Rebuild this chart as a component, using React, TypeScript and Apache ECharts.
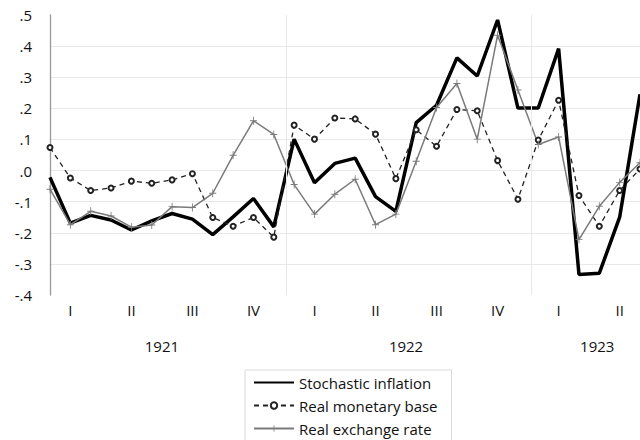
import React, { useEffect, useRef } from "react";
import * as echarts from "echarts";

const months: string[] = [];
for (const y of [1921, 1922, 1923]) {
  for (let m = 1; m <= 12; m++) {
    if (y === 1923 && m > 6) break;
    months.push(`${y}-${String(m).padStart(2, "0")}`);
  }
}

const quarterLabels = ["I", "II", "III", "IV"];
const years = ["1921", "1922", "1923"];
// centre of each year's visible span, in month-index units
const yearCenters = [5.5, 17.5, 26.9];
// year boundaries, in month-index units
const yearDividers = [11.6, 23.65];

const stochasticInflation = [
  -0.022, -0.169, -0.144, -0.159, -0.191, -0.162, -0.138, -0.156, -0.206, -0.149, -0.09, -0.181,
  0.101, -0.039, 0.023, 0.04, -0.084, -0.131, 0.154, 0.21, 0.362, 0.304, 0.484, 0.201,
  0.201, 0.392, -0.334, -0.33, -0.15, 0.245,
];
const realMonetaryBase = [
  0.074, -0.024, -0.064, -0.056, -0.034, -0.041, -0.03, -0.01, -0.151, -0.179, -0.151, -0.214,
  0.146, 0.101, 0.169, 0.166, 0.117, -0.026, 0.131, 0.078, 0.196, 0.192, 0.032, -0.092,
  0.098, 0.226, -0.08, -0.179, -0.064, 0.005,
];
const realExchangeRate = [
  -0.06, -0.174, -0.131, -0.146, -0.182, -0.175, -0.116, -0.119, -0.073, 0.049, 0.16, 0.116,
  -0.045, -0.14, -0.076, -0.028, -0.174, -0.14, 0.03, 0.203, 0.28, 0.101, 0.435, 0.259,
  0.084, 0.108, -0.222, -0.115, -0.038, 0.025,
];

const FONT = "Open Sans";
const plusPath = "path://M4.4,0 h1.2 v10 h-1.2 z M0,4.4 h10 v1.2 h-10 z";

export default function App() {
  const ref = useRef<HTMLDivElement>(null);
  useEffect(() => {
    if (!ref.current) return;
    const chart = echarts.init(ref.current, undefined, { renderer: "svg" });
    chart.setOption({
      animation: false,
      backgroundColor: "#fff",
      textStyle: { fontFamily: FONT },
      grid: { left: 50, right: 0, top: 15, bottom: 145 },
      legend: {
        orient: "vertical",
        left: 245,
        top: 370,
        height: 110,
        padding: [5, 14, 8, 8],
        itemWidth: 40,
        itemHeight: 8,
        itemGap: 8,
        borderColor: "#d9d9d9",
        borderWidth: 1,
        data: [
          { name: "Stochastic inflation", itemStyle: { opacity: 0 } },
          { name: "Real monetary base" },
          { name: "Real exchange rate" },
        ],
        textStyle: { fontFamily: FONT, fontSize: 15, color: "#111" },
      },
      xAxis: [
        {
          type: "category",
          data: months,
          boundaryGap: false,
          axisLine: { show: false },
          axisTick: { show: false },
          splitLine: { show: false },
          axisLabel: {
            interval: (index: number) => index % 3 === 1,
            formatter: (value: string) => {
              const m = parseInt(value.slice(5), 10) - 1;
              return quarterLabels[Math.floor(m / 3)];
            },
            fontFamily: FONT,
            fontSize: 15,
            color: "#111",
            margin: 7,
          },
        },
        {
          type: "value",
          min: 0,
          max: months.length - 1,
          position: "bottom",
          offset: 37,
          axisLine: { show: false },
          axisTick: { show: false },
          splitLine: { show: false },
          axisLabel: {
            customValues: yearCenters,
            formatter: (v: number) => {
              let best = 0;
              yearCenters.forEach((c, i) => {
                if (Math.abs(c - v) < Math.abs(yearCenters[best] - v)) best = i;
              });
              return years[best];
            },
            fontFamily: FONT,
            fontSize: 15,
            color: "#111",
            margin: 6,
          },
        },
      ],
      yAxis: {
        type: "value",
        min: -0.4,
        max: 0.5,
        interval: 0.1,
        axisLine: { show: true, lineStyle: { color: "#999", width: 1.3 } },
        axisTick: { show: false },
        splitLine: {
          show: true,
          showMinLine: false,
          showMaxLine: false,
          lineStyle: { color: "#e8e8e8", width: 1 },
        },
        axisLabel: {
          formatter: (v: number) => {
            const s = (Math.round(v * 10) / 10).toFixed(1);
            return s.replace("0.", ".");
          },
          fontFamily: FONT,
          fontSize: 15,
          color: "#111",
          margin: 18,
        },
      },
      series: [
        {
          name: "dividers",
          type: "line",
          xAxisIndex: 1,
          data: [],
          markLine: {
            silent: true,
            symbol: "none",
            label: { show: false },
            lineStyle: { color: "#e8e8e8", type: "solid", width: 1 },
            data: yearDividers.map((x) => ({ xAxis: x })),
          },
        },
        {
          name: "Stochastic inflation",
          type: "line",
          data: stochasticInflation,
          symbol: "none",
          lineStyle: { color: "#000", width: 3.5 },
          itemStyle: { color: "#000" },
        },
        {
          name: "Real monetary base",
          type: "line",
          data: realMonetaryBase,
          symbol: "emptyCircle",
          symbolSize: 5,
          lineStyle: { color: "#222", width: 1.3, type: [5, 4] },
          itemStyle: { color: "#222", borderColor: "#222", borderWidth: 1.2 },
        },
        {
          name: "Real exchange rate",
          type: "line",
          data: realExchangeRate,
          symbol: plusPath,
          symbolSize: [7, 8],
          lineStyle: { color: "#7a7a7a", width: 1.5 },
          itemStyle: { color: "#7a7a7a" },
        },
      ],
    });
    return () => chart.dispose();
  }, []);
  return (
    <div
      ref={ref}
      style={{ position: "fixed", left: 0, top: 0, width: 640, height: 440, background: "#fff" }}
    />
  );
}
